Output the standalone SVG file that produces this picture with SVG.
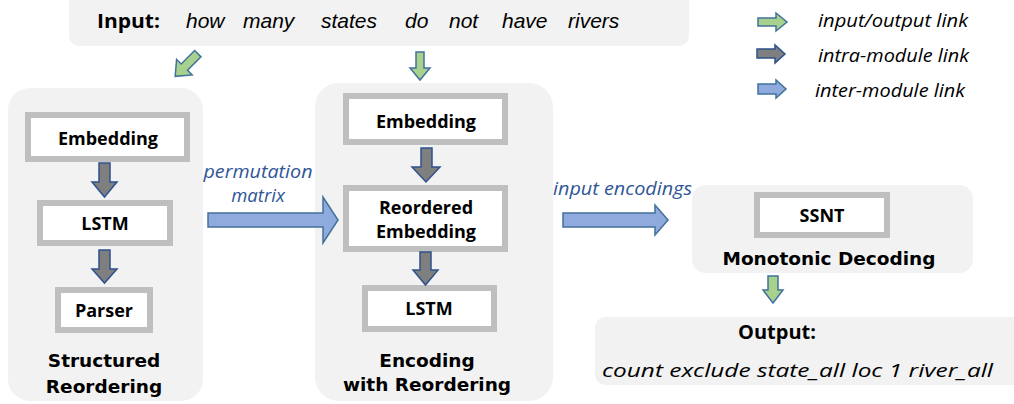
<svg xmlns="http://www.w3.org/2000/svg" width="1014" height="404" viewBox="0 0 1014 404">
<defs>
<style>
.panel{fill:#f2f2f2;stroke:none}
.box{fill:#ffffff;stroke:#bfbfbf;stroke-width:6}
.lbl{font-family:"Open Sans","Liberation Sans",sans-serif;font-weight:bold;font-size:18px;fill:#000;text-anchor:middle}
.title{font-family:"DejaVu Sans","Liberation Sans",sans-serif;font-weight:bold;font-size:18.5px;fill:#000;text-anchor:middle}
.it{font-family:"Liberation Sans",Arial,sans-serif;font-style:italic;font-size:21px;fill:#000}
.leg{font-family:"Open Sans","Liberation Sans",sans-serif;font-style:italic;font-size:18.5px;fill:#000}
.blue{font-family:"Open Sans","Liberation Sans",sans-serif;font-style:italic;font-size:18.5px;fill:#2f5597}
.ga{fill:#a9d18e;stroke:#41719c;stroke-width:1.5;stroke-linejoin:miter}
.gr{fill:#7f7f7f;stroke:#2f528f;stroke-width:1.5}
.bl{fill:#8faadc;stroke:#41719c;stroke-width:1.5}
</style>
</defs>

<g id="input">
<rect class="panel" x="69" y="-10" width="620" height="56" rx="10"/>
<text x="97" y="28" font-family="Open Sans, Liberation Sans, sans-serif" font-weight="bold" font-size="19" textLength="63" lengthAdjust="spacingAndGlyphs">Input:</text>
<g class="it">
<text x="186" y="28">how</text>
<text x="243" y="28">many</text>
<text x="321" y="28">states</text>
<text x="405" y="28">do</text>
<text x="449" y="28">not</text>
<text x="502" y="28">have</text>
<text x="568" y="28">rivers</text>
</g>
</g>

<g id="legend">
<path class="ga" d="M758,18 H776 V13 L787,22 L776,31 V26 H758 Z"/>
<text class="leg" x="818" y="27" textLength="150" lengthAdjust="spacingAndGlyphs">input/output link</text>
<path class="gr" d="M757,49 H775 V45 L785,54 L775,63 V58 H757 Z"/>
<text class="leg" x="818" y="62" textLength="151" lengthAdjust="spacingAndGlyphs">intra-module link</text>
<path class="bl" d="M758,84 H776 V80 L786,89 L776,98 V94 H758 Z"/>
<text class="leg" x="815" y="97" textLength="150" lengthAdjust="spacingAndGlyphs">inter-module link</text>
</g>

<g id="structured-reordering">
<rect class="panel" x="8" y="88" width="195" height="313" rx="22"/>
<g id="sr-embedding"><rect class="box" x="28" y="115" width="159" height="44"/><text class="lbl" x="108" y="145">Embedding</text></g>
<g id="sr-lstm"><rect class="box" x="40" y="203" width="130" height="40"/><text class="lbl" x="105" y="230">LSTM</text></g>
<g id="sr-parser"><rect class="box" x="58" y="290" width="92" height="40"/><text class="lbl" x="104" y="317">Parser</text></g>
<text class="title" x="104" y="367">Structured</text>
<text class="title" x="104" y="393">Reordering</text>
</g>

<g id="encoding-with-reordering">
<rect class="panel" x="315" y="83" width="238" height="318" rx="24"/>
<g id="er-embedding"><rect class="box" x="346" y="96" width="159" height="46"/><text class="lbl" x="426" y="128">Embedding</text></g>
<g id="er-reordered"><rect class="box" x="346" y="188" width="159" height="61"/><text class="lbl" x="426" y="214">Reordered</text><text class="lbl" x="426" y="238">Embedding</text></g>
<g id="er-lstm"><rect class="box" x="365" y="288" width="129" height="41"/><text class="lbl" x="429" y="315">LSTM</text></g>
<text class="title" x="427" y="367">Encoding</text>
<text class="title" x="427" y="391">with Reordering</text>
</g>

<g id="monotonic-decoding">
<rect class="panel" x="692" y="185" width="281" height="88" rx="14"/>
<g id="ssnt"><rect class="box" x="757" y="195" width="130" height="40"/><text class="lbl" x="822" y="222">SSNT</text></g>
<text class="title" x="829" y="265">Monotonic Decoding</text>
</g>

<g id="output">
<rect class="panel" x="595" y="317" width="430" height="68" rx="10"/>
<text x="777" y="339" font-family="Open Sans, Liberation Sans, sans-serif" font-weight="bold" font-size="20" text-anchor="middle">Output:</text>
<text x="602" y="377" font-family="Open Sans, Liberation Sans, sans-serif" font-style="italic" font-size="18" textLength="391" lengthAdjust="spacingAndGlyphs">count  exclude  state_all  loc  1  river_all</text>
</g>

<g id="connectors">
<path class="ga" transform="translate(186.5,65) rotate(45)" d="M-4.5,-16 H4.5 V3 H11 L0,16 L-11,3 H-4.5 Z"/>
<path class="ga" d="M416,52 H424 V68 H430 L420,80 L410,68 H416 Z"/>
<path class="gr" d="M99,163 H110 V182 H117 L104.5,197 L92,182 H99 Z"/>
<path class="gr" d="M99,250 H110 V269 H117 L104.5,283 L92,269 H99 Z"/>
<path class="gr" d="M421,148 H432 V167 H440 L426,182 L412,167 H421 Z"/>
<path class="gr" d="M420,252 H431 V270 H438 L425.5,285 L413,270 H420 Z"/>
<path class="ga" d="M768,276 H778 V290 H783 L773,303 L763,290 H768 Z"/>
<path class="bl" d="M208,213 H323 V197 L338,220 L323,243 V227 H208 Z"/>
<path class="bl" d="M563,213 H655 V205 L668,220 L655,235 V227 H563 Z"/>
<text class="blue" x="258" y="178" text-anchor="middle" textLength="109" lengthAdjust="spacingAndGlyphs">permutation</text>
<text class="blue" x="258" y="202" text-anchor="middle">matrix</text>
<text class="blue" x="553" y="195" textLength="139" lengthAdjust="spacingAndGlyphs">input encodings</text>
</g>
</svg>
